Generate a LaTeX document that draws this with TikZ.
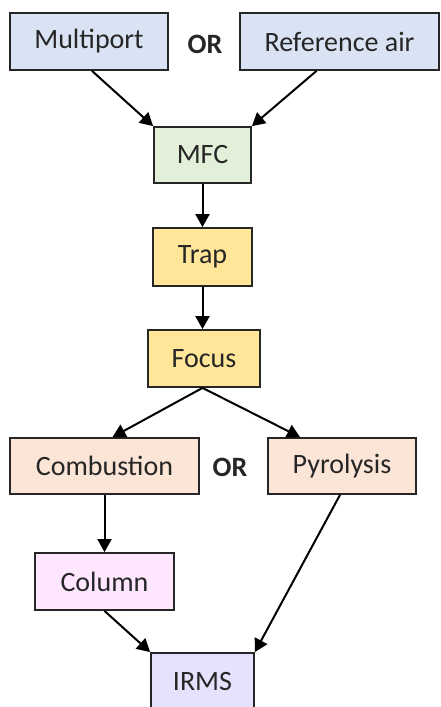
\documentclass[tikz,border=0pt]{standalone}
\usepackage{fontspec}
\setmainfont{Carlito}
\usetikzlibrary{arrows.meta}
\definecolor{cblue}{HTML}{DAE3F3}
\definecolor{cgreen}{HTML}{E2F0D9}
\definecolor{cyellow}{HTML}{FFE699}
\definecolor{cpeach}{HTML}{FBE5D6}
\definecolor{cpink}{HTML}{FFE6FF}
\definecolor{clav}{HTML}{E6E1FD}
\definecolor{cline}{HTML}{262626}
\tikzset{
  box/.style={draw=cline, line width=1.8pt, inner sep=0pt, text=cline,
    font=\fontsize{28}{32}\selectfont, anchor=center},
  ortext/.style={font=\fontsize{28}{32}\selectfont\bfseries, text=cline, inner sep=0pt},
  arr/.style={draw=black, line width=2pt, -{Triangle[length=13pt,width=14pt]}}
}
\begin{document}
\begin{tikzpicture}[x=1pt,y=-1pt]
\useasboundingbox (0,0) rectangle (440,707);
\node[box, fill=cblue, minimum width=158pt, minimum height=57pt] (mp) at (89,41.5) {Multiport};
\node[box, fill=cblue, minimum width=199pt, minimum height=57pt] (ra) at (339.5,41.5) {Reference air};
\node[ortext] (or1) at (205,44) {OR};
\node[box, fill=cgreen, minimum width=97pt, minimum height=56pt] (mfc) at (202.5,155) {MFC};
\node[box, fill=cyellow, minimum width=99pt, minimum height=58pt] (trap) at (202.5,257) {Trap};
\node[box, fill=cyellow, minimum width=112pt, minimum height=57pt] (focus) at (204,358.5) {Focus};
\node[box, fill=cpeach, minimum width=189pt, minimum height=56pt] (comb) at (104.5,466) {Combustion};
\node[ortext] (or2) at (230,467) {OR};
\node[box, fill=cpeach, minimum width=148pt, minimum height=56pt] (pyr) at (342,466) {Pyrolysis};
\node[box, fill=cpink, minimum width=139pt, minimum height=57pt] (col) at (104.5,581.5) {Column};
\node[box, fill=clav, minimum width=103pt, minimum height=57pt] (irms) at (202.5,681.5) {IRMS};
\draw[arr] ([xshift=3pt]mp.south) -- (mfc.north west);
\draw[arr] ([xshift=-23pt]ra.south) -- (mfc.north east);
\draw[arr] (mfc.south) -- (trap.north);
\draw[arr] (trap.south) -- (trap.south |- focus.north);
\draw[arr] ([xshift=-1.5pt]focus.south) -- ([xshift=8pt]comb.north);
\draw[arr] ([xshift=-1.5pt]focus.south) -- ([xshift=-42pt]pyr.north);
\draw[arr] (comb.south) -- (col.north);
\draw[arr] (col.south) -- (irms.north west);
\draw[arr] ([xshift=-2pt]pyr.south) -- (irms.north east);
\end{tikzpicture}
\end{document}
